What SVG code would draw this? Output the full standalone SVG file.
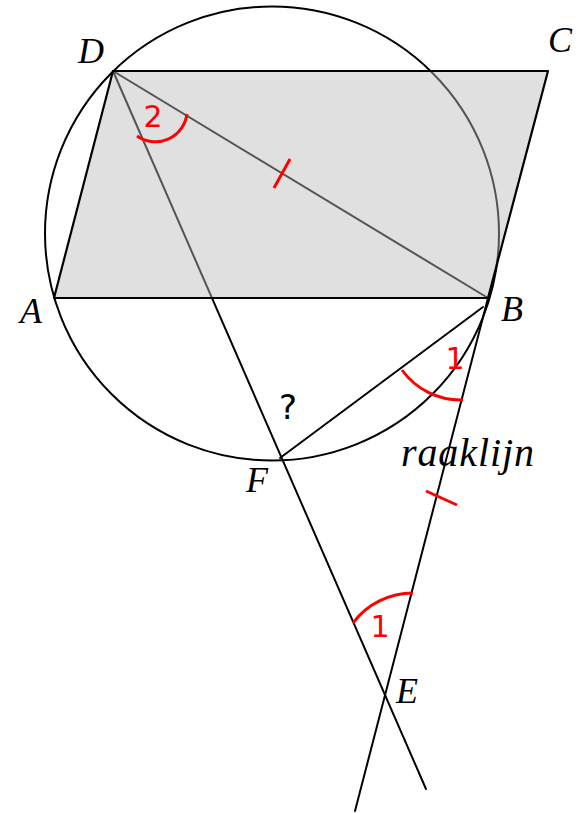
<svg xmlns="http://www.w3.org/2000/svg" width="584" height="813" viewBox="0 0 584 813">
<style>
.ln{stroke:#000;stroke-width:2;fill:none;stroke-linecap:round}
.red{stroke:#ff0000;stroke-width:3;fill:none}
.pt{font-family:"Liberation Serif","Times New Roman",serif;font-style:italic;font-size:36px;fill:#000}
.num{font-family:"DejaVu Sans",sans-serif;font-size:30px;fill:#ff0000;text-anchor:middle}
</style>
<rect width="584" height="813" fill="#fff"/>
<g id="lines">
<circle cx="272" cy="233.5" r="227" class="ln"/>
<line x1="113" y1="71" x2="426" y2="789" class="ln"/>
<line x1="113" y1="71" x2="488" y2="298" class="ln"/>
<line x1="488" y1="298" x2="355" y2="811" class="ln"/>
<line x1="280" y1="458" x2="483" y2="307" class="ln"/>
</g>
<g id="parallelogram">
<polygon points="113,71 548,71 488,298 54,298" fill="#bbbbbb" fill-opacity="0.45" stroke="none"/>
<polygon points="113,71 548,71 488,298 54,298" class="ln" style="stroke-width:2.2" stroke-linejoin="round"/>
</g>
<g id="marks">
<path d="M137 136 A32 32 0 0 0 187 114" class="red"/>
<line x1="274" y1="188" x2="290" y2="159" class="red"/>
<path d="M402 370 A72 72 0 0 0 463 400" class="red"/>
<line x1="426" y1="491" x2="457" y2="505" class="red"/>
<path d="M353 623 A75 75 0 0 1 413 593" class="red"/>
<text x="153" y="127" class="num">2</text>
<text x="455" y="369" class="num">1</text>
<text x="380" y="637" class="num">1</text>
</g>
<g id="labels">
<text x="78" y="63" class="pt">D</text>
<text x="548" y="52" class="pt">C</text>
<text x="20" y="323" class="pt">A</text>
<text x="501" y="321" class="pt">B</text>
<text x="246" y="492" class="pt">F</text>
<text x="396" y="703" class="pt">E</text>
<text x="401" y="466" class="pt" style="font-size:40px" textLength="133" lengthAdjust="spacing">raaklijn</text>
<text x="288" y="419" font-family="DejaVu Sans, sans-serif" font-size="34" text-anchor="middle" fill="#000">?</text>
</g>
</svg>
